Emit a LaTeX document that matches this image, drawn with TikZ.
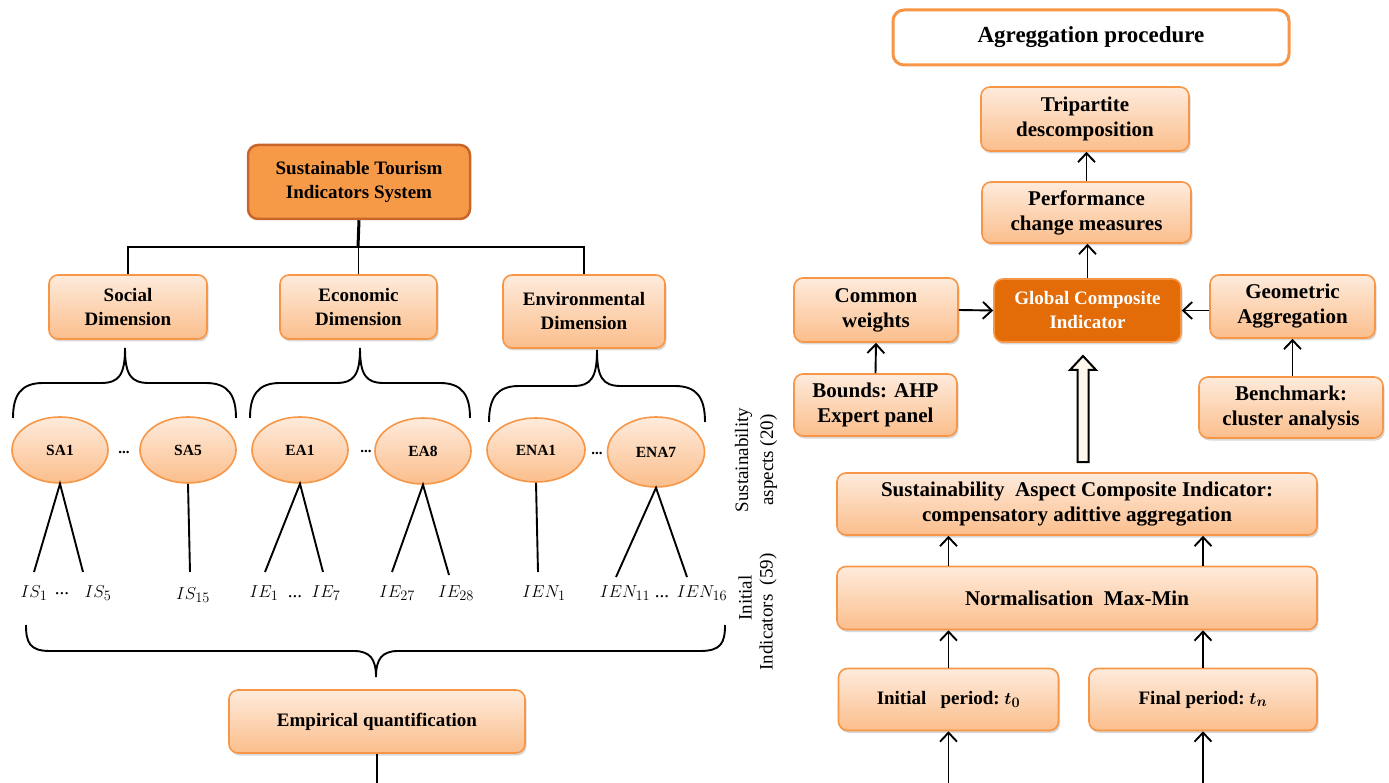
\documentclass[tikz,border=0pt]{standalone}
\usepackage{fontspec}
\setmainfont{Liberation Serif}
\usepackage{amsmath}
\usetikzlibrary{arrows.meta,shapes.geometric,shadows}
\definecolor{obord}{HTML}{F79646}
\definecolor{otop}{HTML}{FEEBDC}
\definecolor{obot}{HTML}{FBBE8C}
\definecolor{ostis}{HTML}{F79A48}
\definecolor{ostisb}{HTML}{C8652A}
\definecolor{oglob}{HTML}{E36C09}
\definecolor{hollow}{HTML}{FFF6EE}
\newcommand\mybrc[6]{%
\draw[treeline] (#1,#4) .. controls (#1,#5+12) and (#1+8,#5) .. (#1+30,#5) -- (#3-24,#5) .. controls (#3-6,#5) and (#3,#5-8) .. (#3,#6) .. controls (#3,#5-8) and (#3+6,#5) .. (#3+24,#5) -- (#2-30,#5) .. controls (#2-8,#5) and (#2,#5+12) .. (#2,#4);}
\begin{document}
\begin{tikzpicture}[x=1pt,y=-1pt,
  fbox/.style={rectangle, rounded corners=9pt, draw=obord, line width=1.6pt,
    top color=otop, bottom color=obot,
    drop shadow={shadow xshift=1.5pt, shadow yshift=-2.5pt, opacity=0.3},
    align=center, inner sep=0pt, font=\fontsize{19}{24}\selectfont\bfseries},
  rbox/.style={fbox, font=\fontsize{21}{25}\selectfont\bfseries},
  ell/.style={ellipse, draw=obord, line width=1.6pt, top color=otop, bottom color=obot,
    inner sep=0pt, font=\fontsize{15.5}{18}\selectfont\bfseries},
  treeline/.style={line width=1.9pt, black},
  arr/.style={line width=1.9pt, black, -{Straight Barb[length=9pt,width=17pt]}},
  ind/.style={anchor=base, inner sep=0pt, font=\fontsize{19}{22}\selectfont},
  dots/.style={inner sep=0pt, font=\fontsize{15}{18}\selectfont\bfseries},
  rot/.style={rotate=90, align=center, inner sep=0pt, font=\fontsize{19}{25}\selectfont}]
\useasboundingbox (0,0) rectangle (1389,783);

% ---------------- left part ----------------
\node[rectangle, rounded corners=10pt, fill=ostis, draw=ostisb, line width=2.5pt,
  minimum width=222pt, minimum height=74pt, align=center, inner sep=0pt,
  font=\fontsize{19}{24}\selectfont\bfseries] (stis) at (359,182) {Sustainable Tourism\\Indicators System};

\node[fbox, minimum width=158pt, minimum height=64pt] (soc) at (128,307) {Social\\Dimension};
\node[fbox, minimum width=157pt, minimum height=64pt] (eco) at (358.5,307) {Economic\\Dimension};
\node[fbox, minimum width=162pt, minimum height=73pt] (env) at (584,311.5) {Environmental\\Dimension};

\coordinate (bus) at (358,247);
\draw[line width=3pt] (stis.south) -- (bus);
\draw[treeline] (soc.north) -- (soc.north |- bus) -- (env.north |- bus) -- (env.north);
\draw[treeline] (eco.north) -- (eco.north |- bus);

\mybrc{13}{236}{125}{418}{383}{348}
\mybrc{250}{470}{360}{418}{383}{348}
\mybrc{489}{705}{597}{422}{386}{350}

\node[ell, minimum width=96pt, minimum height=66pt] (sa1) at (60,450) {SA1};
\node[ell, minimum width=96pt, minimum height=66pt] (sa5) at (188,450) {SA5};
\node[ell, minimum width=96pt, minimum height=66pt] (ea1) at (300,450) {EA1};
\node[ell, minimum width=96pt, minimum height=66pt] (ea8) at (423,451) {EA8};
\node[ell, minimum width=98pt, minimum height=64pt] (ena1) at (536,450) {ENA1};
\node[ell, minimum width=97pt, minimum height=70pt] (ena7) at (656,452) {ENA7};
\node[dots] (d1) at (124,452) {...};
\node[dots] (d2) at (366,451) {...};
\node[dots] (d3) at (597,453) {...};

% indicators
\node[ind] (is1) at (34,597) {$IS_1$};
\node[ind] (ds1) at (62,594) {...};
\node[ind] (is5) at (98,597) {$IS_5$};
\node[ind] (is15) at (193,599) {$IS_{15}$};
\node[ind] (ie1) at (264,597) {$IE_1$};
\node[ind] (ds2) at (295,597) {...};
\node[ind] (ie7) at (326,597) {$IE_7$};
\node[ind] (ie27) at (397,597) {$IE_{27}$};
\node[ind] (ie28) at (456,597) {$IE_{28}$};
\node[ind] (ien1) at (544,597) {$IEN_1$};
\node[ind] (ien11) at (625,597) {$IEN_{11}$};
\node[ind] (ds3) at (662,597) {...};
\node[ind] (ien16) at (702,597) {$IEN_{16}$};

\coordinate (e1) at (34,572); \coordinate (e2) at (83,572);
\coordinate (e3) at (190,572);
\coordinate (e4) at (265,572); \coordinate (e5) at (323,572);
\coordinate (e6) at (392,572); \coordinate (e7) at (449,575);
\coordinate (e8) at (538,572);
\coordinate (e9) at (616,577); \coordinate (e10) at (687,577);
\draw[treeline] (e1) -- (sa1.south) -- (e2);
\draw[treeline] (sa5.south) -- (e3);
\draw[treeline] (e4) -- (ea1.south) -- (e5);
\draw[treeline] (e6) -- (ea8.south) -- (e7);
\draw[treeline] (ena1.south) -- (e8);
\draw[treeline] (e9) -- (ena7.south) -- (e10);

% big brace
\draw[treeline] (26,625) .. controls (26,643) and (30,651) .. (50,651) -- (354,651)
  .. controls (370,651) and (376,659) .. (376,677) .. controls (376,659) and (382,651) .. (398,651)
  -- (700,651) .. controls (721,651) and (725,643) .. (725,625);

\node[fbox, minimum width=296pt, minimum height=63pt] (emp) at (377,721.5) {Empirical quantification};
\coordinate (empend) at (377,783);
\draw[treeline] (emp.south) -- (empend);

% rotated labels
\node[rot] (lsa) at (756,460) {Sustainability\\aspects (20)};
\node[rot] (lin1) at (745,598) {Initial};
\node[rot] (lin2) at (768,612) {Indicators\ \ (59)};

% ---------------- right part ----------------
\node[rectangle, rounded corners=11pt, draw=obord, line width=3pt, fill=white,
  minimum width=396pt, minimum height=55pt, inner sep=0pt,
  font=\fontsize{23}{27}\selectfont\bfseries] (agg) at (1091,37.5) {Agreggation procedure};

\node[rbox, minimum width=208pt, minimum height=64pt] (tri) at (1085,119) {Tripartite\\descomposition};
\node[rbox, minimum width=209pt, minimum height=61pt] (perf) at (1086.5,212.5) {Performance\\change measures};
\node[rbox, minimum width=164pt, minimum height=64pt] (comm) at (876,310) {Common\\weights};
\node[rectangle, rounded corners=9pt, fill=oglob, draw=obord, line width=1.6pt, text=white,
  drop shadow={shadow xshift=1.5pt, shadow yshift=-2.5pt, opacity=0.3},
  minimum width=187pt, minimum height=63pt, align=center, inner sep=0pt,
  font=\fontsize{19}{24}\selectfont\bfseries] (glob) at (1087.5,310.5) {Global Composite\\Indicator};
\node[rbox, minimum width=165pt, minimum height=63pt] (geom) at (1292.5,306.5) {Geometric\\Aggregation};
\node[rbox, minimum width=163pt, minimum height=62pt] (bnd) at (875.5,405) {Bounds: AHP\\Expert panel};
\node[rbox, minimum width=184pt, minimum height=61pt] (bench) at (1291,407.5) {Benchmark:\\cluster analysis};

\node[rbox, minimum width=480pt, minimum height=62pt] (saci) at (1077,504) {Sustainability\ \ Aspect Composite Indicator:\\compensatory adittive aggregation};
\node[rbox, minimum width=480pt, minimum height=63pt] (norm) at (1077,598) {Normalisation\ \ Max-Min};
\node[fbox, minimum width=220pt, minimum height=62pt, font=\fontsize{19}{24}\selectfont\bfseries\boldmath] (init) at (948.5,699.5) {Initial\ \ \ period:\ $t_0$};
\node[fbox, minimum width=228pt, minimum height=62pt, font=\fontsize{19}{24}\selectfont\bfseries\boldmath] (fin) at (1203,699.5) {Final period:\ $t_n$};

% arrows
\draw[arr] (perf.north) -- (perf.north |- tri.south);
\draw[arr] (glob.north) -- (glob.north |- perf.south);
\draw[arr] (comm.east) -- (glob.west);
\draw[arr] (geom.west |- glob.east) -- (glob.east);
\draw[arr] (bnd.north) -- (comm.south);
\draw[arr] (geom.south |- bench.north) -- (geom.south);
\draw[arr] (norm.north -| init.north) -- (saci.south -| init.north);
\draw[arr] (norm.north -| fin.north) -- (saci.south -| fin.north);
\draw[arr] (init.north) -- (init.north |- norm.south);
\draw[arr] (fin.north) -- (fin.north |- norm.south);
\coordinate (inb) at (948.5,783);
\coordinate (fnb) at (1203,783);
\draw[arr] (inb) -- (init.south);
\draw[arr] (fnb) -- (fin.south);

% hollow arrow
\draw[line width=2pt, fill=hollow, line join=miter]
  (1083,356) -- (1096,370) -- (1088.5,370) -- (1088.5,462) -- (1077.5,462) -- (1077.5,370) -- (1070,370) -- cycle;
\end{tikzpicture}
\end{document}
